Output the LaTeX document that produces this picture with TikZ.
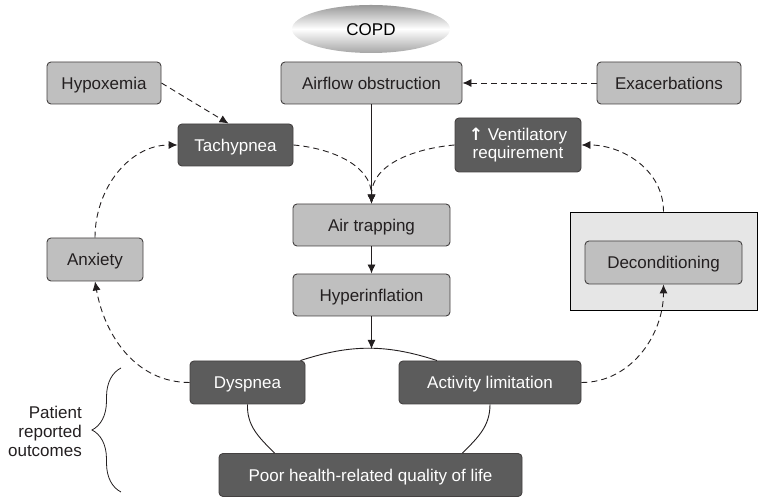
\documentclass[tikz,border=0pt]{standalone}
\usepackage{fontspec}
\setmainfont{Liberation Sans}
\newfontfamily\arrowfont{DejaVu Sans}
\usetikzlibrary{shapes.geometric,arrows.meta,decorations.pathreplacing}
\definecolor{lightbox}{HTML}{BFBFBF}
\definecolor{darkbox}{HTML}{5C5C5C}
\definecolor{panelgray}{HTML}{E6E6E6}
\definecolor{ink}{HTML}{231F20}
\begin{document}
\begin{tikzpicture}[x=1pt,y=1pt,
    font=\fontsize{17}{18.5}\selectfont,
    boxbase/.style={draw=ink!85, line width=0.9pt, rounded corners=4pt, fill=lightbox, text=ink, minimum height=42pt, inner sep=0pt},
    lbox/.style={boxbase, text height=12.2pt, text depth=0pt},
    dbox/.style={lbox, fill=darkbox, text=white},
    dasharrow/.style={-{Latex[length=9pt,width=8pt]}, dash pattern=on 6pt off 4pt, line width=0.9pt, draw=ink},
    solidarrow/.style={-{Latex[length=9pt,width=8pt]}, line width=0.9pt, draw=ink},
    link/.style={line width=0.9pt, draw=ink}]
    \useasboundingbox (0,0) rectangle (764,502);

    % Top of the chain
    \node[ellipse, minimum width=158pt, minimum height=48pt, inner sep=0pt, text height=12.2pt, text depth=0pt,
          top color=gray!80, bottom color=gray!70, middle color=white] (copd) at (371,473) {COPD};
    \node[lbox, minimum width=114pt] (hypox) at (104,419) {Hypoxemia};
    \node[lbox, minimum width=181pt] (airflow) at (371.5,419) {Airflow obstruction};
    \node[lbox, minimum width=144pt] (exacerb) at (669,419) {Exacerbations};
    \node[dbox, minimum width=115pt] (tachyp) at (235.5,357) {Tachypnea};
    \node[boxbase, fill=darkbox, text=white, minimum width=126pt, minimum height=54pt, align=center] (ventil) at (518,357)
        {{\arrowfont\bfseries ↑} Ventilatory\\requirement};
    \node[lbox, minimum width=157pt] (airtrap) at (371.5,277) {Air trapping};
    \node[lbox, minimum width=157pt] (hyperinf) at (371.5,207) {Hyperinflation};
    \node[lbox, minimum width=96pt, minimum height=43pt] (anxiety) at (95,242.5) {Anxiety};

    % Deconditioning inside its panel
    \node[draw=black, line width=0.9pt, fill=panelgray, minimum width=187pt, minimum height=98pt] (panel) at (663.5,241) {};
    \node[lbox, minimum width=157pt, minimum height=43pt] (decond) at (663.5,239.5) {Deconditioning};

    % Outcomes
    \node[dbox, minimum width=115pt, minimum height=43pt] (dyspnea) at (247.5,119.5) {Dyspnea};
    \node[dbox, minimum width=182pt, minimum height=43pt] (activity) at (490,119.5) {Activity limitation};
    \node[dbox, minimum width=303pt, minimum height=43pt] (qol) at (370.5,27) {Poor health-related quality of life};
    \coordinate (arctop) at (371.5,153);

    % Solid chain
    \draw[solidarrow] (airflow) -- (airtrap);
    \draw[solidarrow] (airtrap) -- (hyperinf);
    \draw[solidarrow] (hyperinf) -- (arctop);

    % Links between the outcomes
    \draw[link] ([xshift=-5pt]dyspnea.north east) to[out=18, in=162] ([xshift=-53pt]activity.north);
    \draw[link] (dyspnea.south) to[out=-92, in=135] ([xshift=56pt]qol.north west);
    \draw[link] (activity.south) to[out=-90, in=45] ([xshift=-60pt]qol.north east);

    % Dashed feedback loops
    \draw[dasharrow] (exacerb) -- (airflow);
    \draw[dasharrow] (hypox.east) -- ([xshift=-7pt]tachyp.north);
    \draw[dasharrow] (tachyp.east) to[out=-5, in=90] (airtrap.north);
    \draw[dasharrow] (ventil.west) to[out=185, in=90] (airtrap.north);
    \draw[dasharrow] (anxiety.north) to[out=90, in=180] (tachyp.west);
    \draw[dasharrow] (dyspnea.west) to[out=180, in=-80] (anxiety.south);
    \draw[dasharrow] (activity.east) to[out=0, in=-90] (decond.south);
    \draw[dasharrow] (panel.north) to[out=90, in=0] (ventil.east);

    % Brace with its label
    \coordinate (brbot) at (121,10);
    \coordinate (brtop) at (121,134);
    \draw[line width=0.8pt, draw=ink, decorate, decoration={brace, amplitude=29pt}] (brbot) -- (brtop);
    \node[anchor=east, align=right, inner sep=0pt, text=ink, font=\fontsize{17}{19}\selectfont] (patrep) at (82,71)
        {Patient\\reported\\outcomes};
\end{tikzpicture}
\end{document}
